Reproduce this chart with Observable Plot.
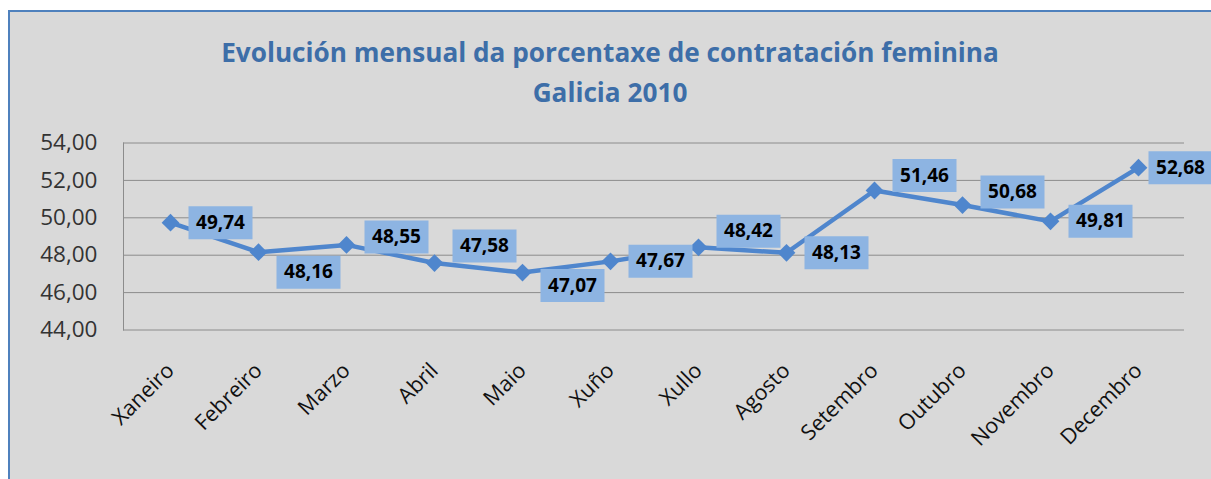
<!DOCTYPE html>
<html>
<head>
<meta charset="utf-8">
<script src="https://cdn.jsdelivr.net/npm/d3@7"></script>
<script src="https://cdn.jsdelivr.net/npm/@observablehq/plot@0.6"></script>
<style>
  html, body { margin: 0; padding: 0; background: #ffffff; width: 1211px; height: 479px; overflow: hidden; }
  #frame { position: absolute; left: 8px; top: 10px; width: 1220px; height: 490px; background: #d9d9d9;
           border-left: 2px solid #4f81bd; border-top: 2px solid #4f81bd; }
  #title { position: absolute; left: 0; top: 0; width: 1200px; height: 110px; box-sizing: border-box; padding-top: 20px;
           text-align: center; font-family: "Open Sans", sans-serif; font-weight: 700; font-size: 26.2px; line-height: 40px; color: #3d6ea8; }
  #chart { position: absolute; left: 0; top: 110px; }
</style>
</head>
<body>
<div id="frame">
  <div id="title">Evolución mensual da porcentaxe de contratación feminina<br>Galicia 2010</div>
  <div id="chart"></div>
</div>
<script>
const months = ["Xaneiro", "Febreiro", "Marzo", "Abril", "Maio", "Xuño", "Xullo", "Agosto", "Setembro", "Outubro", "Novembro", "Decembro"];
const values = [49.74, 48.16, 48.55, 47.58, 47.07, 47.67, 48.42, 48.13, 51.46, 50.68, 49.81, 52.68];
const yTicks = [44, 46, 48, 50, 52, 54];

// label box offsets (pixels) relative to each point, as placed in the original chart
const labelDx = [50, 50, 50, 50, 50, 50, 50, 50, 50, 50, 50, 42];
const labelDy = [0, 20, -8, -17, 13, 0, -16, 0, -15, -13, 0, 0];

const fmt = v => d3.format(".2f")(v).replace(".", ",");
const data = months.map((m, i) => ({month: m, value: values[i], i}));

const boxSymbol = { draw(ctx) { ctx.rect(-32, -16.5, 64, 33); } };

const lineColor = "#4f86cd";
const boxColor = "#8db4e2";

const labelMarks = data.flatMap(d => [
  Plot.dot([d], {x: "month", y: "value", symbol: boxSymbol, fill: boxColor, stroke: "none", dx: labelDx[d.i], dy: labelDy[d.i]}),
  Plot.text([d], {x: "month", y: "value", text: dd => fmt(dd.value), dx: labelDx[d.i], dy: labelDy[d.i],
    fill: "#000", fontWeight: "bold", fontSize: 19, fontFamily: "'Open Sans', sans-serif"})
]);

const chart = Plot.plot({
  width: 1201,
  height: 369,
  marginLeft: 113,
  marginRight: 27,
  marginTop: 20.5,
  marginBottom: 161.5,
  style: {background: "transparent", fontFamily: "'Open Sans', sans-serif"},
  x: {type: "point", domain: months, padding: 0.5},
  y: {domain: [44, 54]},
  marks: [
    Plot.ruleY(yTicks, {stroke: "#8c8c8c", strokeWidth: 1, strokeOpacity: 1}),
    Plot.frame({anchor: "left", stroke: "#8c8c8c"}),
    Plot.axisY({ticks: yTicks, tickSize: 0, tickPadding: 26, tickFormat: fmt, fontSize: 22.5, fill: "#333", label: null}),
    Plot.axisX({tickSize: 0, tickPadding: 37, tickRotate: -45, fontSize: 21.5, fill: "#111", label: null}),
    Plot.line(data, {x: "month", y: "value", stroke: lineColor, strokeWidth: 4.5}),
    Plot.dot(data, {x: "month", y: "value", symbol: "diamond2", r: 8, fill: lineColor, stroke: "none"}),
    ...labelMarks
  ]
});
document.getElementById("chart").appendChild(chart);
</script>
</body>
</html>
